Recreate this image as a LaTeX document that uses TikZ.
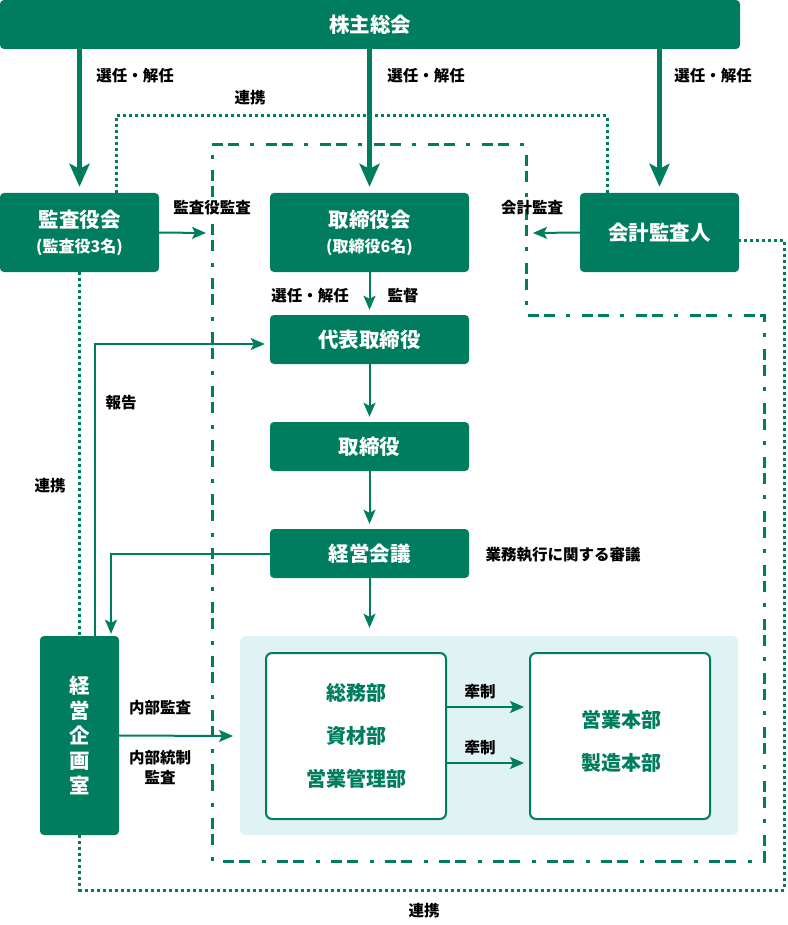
\documentclass[tikz,border=0pt]{standalone}
\usepackage{fontspec}
\setmainfont{Noto Sans CJK JP}
\usetikzlibrary{arrows.meta,positioning}
\definecolor{kgreen}{RGB}{0,125,95}
\definecolor{kpale}{RGB}{223,243,244}

\tikzset{
	gbox/.style={fill=kgreen, rounded corners=4pt, text=white, inner sep=0pt, align=center,
		font=\fontsize{20.5}{25}\selectfont\bfseries},
	wbox/.style={draw=kgreen, line width=2pt, fill=white, rounded corners=6pt, text=kgreen,
		inner sep=0pt, align=center, font=\fontsize{20}{43}\selectfont\bfseries},
	lbl/.style={text=black, inner sep=0pt, align=center, font=\fontsize{15.5}{19.5}\selectfont\bfseries},
	bigarr/.style={draw=kgreen, line width=4.5pt, shorten >=6pt,
		-{Stealth[length=23pt,width=20pt,inset=5pt]}},
	arr/.style={draw=kgreen, line width=2pt, -{Stealth[length=14pt,width=12pt,inset=3pt]}},
	renkei/.style={draw=kgreen, line width=3pt, dash pattern=on 3pt off 3pt},
	kansawaku/.style={draw=kgreen, line width=3pt, line join=miter,
		dash pattern=on 11pt off 5pt on 11pt off 11pt on 4pt off 12pt}
}

\begin{document}
\begin{tikzpicture}[x=1pt,y=-1pt]
	\useasboundingbox (0,0) rectangle (787,925);

	%%  監査の枠  %%%%%%%%
	\draw[kansawaku] (212,145) -- (526,145) -- (526,315) -- (764,315) -- (764,861) -- (212,861) -- cycle;

	%%  ボックス  %%%%%%%%
	\node[gbox, minimum width=740pt, minimum height=49pt] (soukai) at (370,24.5) {株主総会};
	\node[gbox, minimum width=159pt, minimum height=79pt] (kansa) at (79.5,232.5)
		{監査役会\\{\fontsize{16}{25}\selectfont (監査役3名)}};
	\node[gbox, minimum width=199pt, minimum height=79pt] (torikai) at (369.5,232.5)
		{取締役会\\{\fontsize{16}{25}\selectfont (取締役6名)}};
	\node[gbox, minimum width=159pt, minimum height=79pt] (kaikei) at (659.5,232.5) {会計監査人};
	\node[gbox, minimum width=199pt, minimum height=49pt] (daihyo) at (369.5,339.5) {代表取締役};
	\node[gbox, minimum width=199pt, minimum height=49pt] (torishimari) at (369.5,446.5) {取締役};
	\node[gbox, minimum width=199pt, minimum height=49pt] (keiei) at (369.5,553.5) {経営会議};
	\node[gbox, minimum width=79pt, minimum height=199pt] (kikaku) at (79.5,735.5) {経\\営\\企\\画\\室};

	\node[fill=kpale, rounded corners=5pt, minimum width=498pt, minimum height=199pt, inner sep=0pt] (genba) at (489,735.5) {};
	\node[wbox, minimum width=180pt, minimum height=166pt] (soumu) at (356,736) {総務部\\資材部\\営業管理部};
	\node[wbox, minimum width=180pt, minimum height=166pt] (eigyo) at (620,736) {};
	\node[wbox, draw=none, fill=none] (eigyotxt) at (621,741) {営業本部\\製造本部};

	%%  ラベル  %%%%%%%%
	\node[lbl] (senA) at (135,76) {選任・解任};
	\node[lbl] (senB) at (426,76) {選任・解任};
	\node[lbl] (senC) at (713,76) {選任・解任};
	\node[lbl] (renkeiT) at (250,98) {連携};
	\node[lbl] (kansaL) at (212,208) {監査役監査};
	\node[lbl] (kaikeiL) at (532,208) {会計監査};
	\node[lbl] (senD) at (310,296) {選任・解任};
	\node[lbl] (kantoku) at (403,296) {監督};
	\node[lbl] (houkoku) at (121,403) {報告};
	\node[lbl] (renkeiL) at (50,486) {連携};
	\node[lbl] (shingi) at (563,555) {業務執行に関する審議};
	\node[lbl] (naibuA) at (160,708) {内部監査};
	\node[lbl] (naibuB) at (160,767.5) {内部統制\\監査};
	\node[lbl] (kenseiA) at (480,692) {牽制};
	\node[lbl] (kenseiB) at (480,748) {牽制};
	\node[lbl] (renkeiB) at (424,911) {連携};

	%%  矢印  %%%%%%%%
	\draw[bigarr] (soukai.south -| kansa.north) -- (kansa.north);
	\draw[bigarr] (soukai.south -| torikai.north) -- (torikai.north);
	\draw[bigarr] (soukai.south -| kaikei.north) -- (kaikei.north);

	\coordinate (kansaTip) at (206,233);
	\coordinate (kaikeiTip) at (533,233);
	\draw[arr] (kansa.east) -- (kansaTip);
	\draw[arr] (kaikei.west) -- (kaikeiTip);

	\draw[arr, shorten >=5pt] (torikai.south) -- (daihyo.north);
	\draw[arr, shorten >=5pt] (daihyo.south) -- (torishimari.north);
	\draw[arr, shorten >=5pt] (torishimari.south) -- (keiei.north);
	\draw[arr, shorten >=8pt] (keiei.south) -- (keiei.south |- genba.north);

	\draw[arr, shorten >=5pt] ([xshift=15.5pt]kikaku.north) |- ([yshift=-4.5pt]daihyo.west);
	\draw[arr, shorten >=2pt] (keiei.west) -| ([xshift=31.5pt]kikaku.north);

	\coordinate (naibuTip) at (233,736);
	\draw[arr] (kikaku.east) -- (naibuTip);

	\coordinate (kA) at ([yshift=29pt]soumu.east);
	\coordinate (kB) at ([yshift=-27pt]soumu.east);
	\draw[arr, shorten >=5pt] (kA) -- (kA -| eigyo.west);
	\draw[arr, shorten >=5pt] (kB) -- (kB -| eigyo.west);

	%%  連携 (点線)  %%%%%%%%
	\coordinate (rl) at (116,116);
	\coordinate (rr) at (607,116);
	\coordinate (rb) at (784,890);
	\draw[renkei] (rl |- kansa.north) -- (rl) -- (rr) -- (rr |- kaikei.north);
	\draw[renkei] (kansa.south) -- (kikaku.north);
	\draw[renkei] (kikaku.south) |- (rb) |- ([yshift=-7.5pt]kaikei.east);
\end{tikzpicture}
\end{document}
